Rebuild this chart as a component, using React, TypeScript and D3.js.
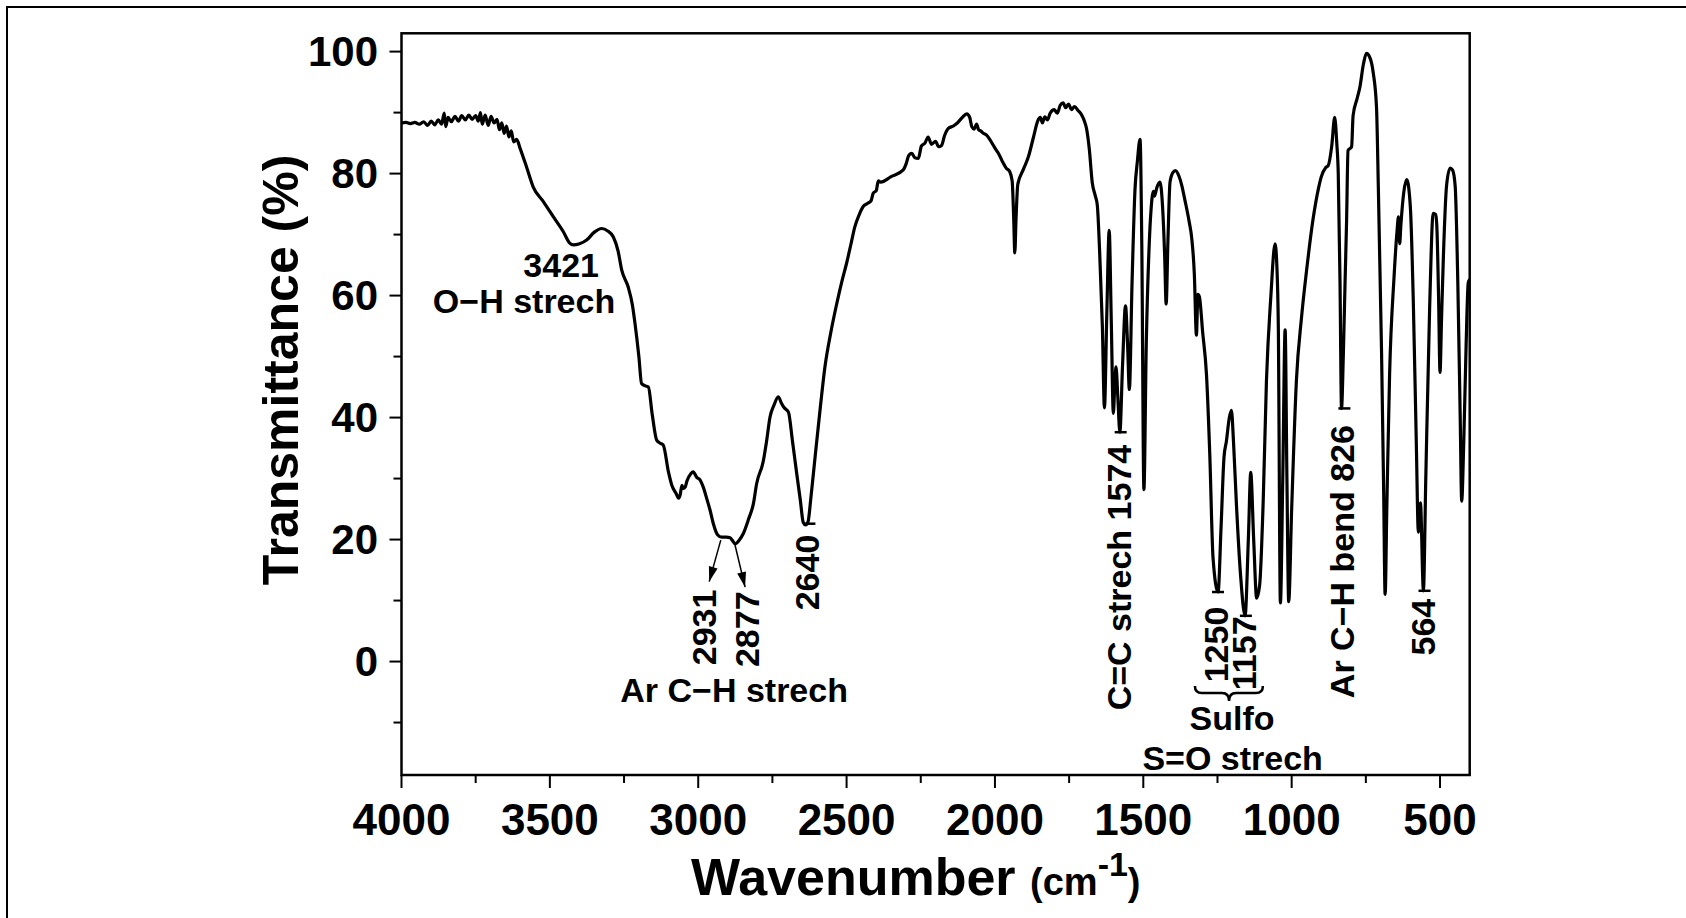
import React from 'react';
import * as d3 from 'd3';

// ---- spectrum (wavenumber cm-1, transmittance %) ----
const WAVENUMBER = [
  4000, 3985, 3970, 3955, 3940, 3925, 3912, 3900, 3888, 3876, 3865, 3856, 3851, 3843, 3832, 3820, 3808, 3797, 3785, 3773,
  3762, 3750, 3741, 3734, 3728, 3718, 3708, 3698, 3688, 3678, 3670, 3662, 3654, 3646, 3638, 3630, 3622, 3612, 3600, 3578,
  3556, 3522, 3488, 3455, 3433, 3421, 3400, 3376, 3350, 3325, 3305, 3286, 3270, 3258, 3236, 3222, 3213, 3200, 3191, 3178,
  3168, 3155, 3140, 3128, 3118, 3100, 3089, 3075, 3066, 3061, 3055, 3050, 3044, 3038, 3025, 3017, 3005, 2994, 2983, 2970,
  2960, 2949, 2935, 2921, 2905, 2893, 2884, 2876, 2862, 2848, 2830, 2814, 2803, 2781, 2770, 2758, 2745, 2730, 2720, 2710,
  2696, 2682, 2668, 2656, 2646, 2638, 2630, 2620, 2606, 2590, 2573, 2553, 2533, 2515, 2500, 2485, 2472, 2458, 2444, 2430,
  2418, 2410, 2400, 2393, 2385, 2350, 2309, 2300, 2290, 2280, 2270, 2258, 2248, 2236, 2225, 2214, 2200, 2190, 2180, 2170,
  2157, 2140, 2129, 2110, 2095, 2085, 2078, 2070, 2062, 2055, 2048, 2039, 2028, 2016, 2005, 1995, 1988, 1975, 1962, 1950,
  1942, 1937, 1933, 1929, 1923, 1905, 1887, 1870, 1856, 1847, 1840, 1832, 1823, 1814, 1800, 1790, 1780, 1770, 1762, 1752,
  1742, 1732, 1719, 1710, 1700, 1691, 1682, 1672, 1662, 1655, 1647, 1638, 1631, 1623, 1615, 1608, 1601, 1596, 1592, 1586,
  1579, 1570, 1560, 1553, 1547, 1538, 1528, 1520, 1511, 1505, 1498, 1490, 1480, 1474, 1466, 1462, 1455, 1444, 1435, 1428,
  1423, 1417, 1410, 1400, 1392, 1380, 1370, 1360, 1345, 1337, 1328, 1321, 1316, 1311, 1300, 1287, 1276, 1265, 1248, 1238,
  1228, 1220, 1210, 1203, 1196, 1186, 1172, 1157, 1146, 1138, 1128, 1118, 1108, 1096, 1085, 1070, 1056, 1050, 1045, 1038,
  1030, 1022, 1016, 1010, 1000, 984, 967, 950, 928, 910, 900, 885, 877, 865, 855, 848, 843, 837, 832, 826,
  820, 815, 810, 798, 793, 780, 770, 758, 748, 738, 725, 714, 708, 697, 690, 685, 679, 670, 655, 645,
  640, 636, 632, 622, 612, 600, 590, 580, 573, 566, 556, 548, 535, 523, 515, 511, 505, 500, 495, 489,
  478, 466, 458, 449, 440, 432, 427, 420, 412, 405, 400,
];
const TRANSMITTANCE = [
  88.3, 88.4, 88.2, 88.4, 88.1, 88.5, 87.9, 88.6, 88.0, 88.8, 88.1, 89.9, 87.7, 89.2, 88.5, 89.4, 88.6, 89.5, 88.8, 89.6,
  88.9, 89.5, 88.6, 90.0, 88.1, 89.6, 87.9, 89.4, 88.3, 88.9, 87.2, 88.3, 86.6, 87.8, 86.0, 87.0, 85.2, 85.6, 84.1, 81.0,
  77.8, 75.4, 72.9, 70.5, 68.6, 68.3, 68.5, 69.1, 70.4, 71.0, 70.6, 69.6, 67.3, 64.2, 61.4, 58.5, 55.4, 50.0, 45.6, 45.2,
  45.0, 40.5, 36.3, 35.8, 35.5, 31.0, 28.9, 27.6, 26.8, 27.3, 28.9, 28.4, 28.6, 29.6, 30.8, 31.1, 30.2, 29.8, 28.6, 26.5,
  24.8, 22.6, 20.8, 20.4, 20.4, 20.3, 19.8, 19.3, 19.9, 21.0, 23.4, 25.9, 29.2, 32.8, 36.0, 40.1, 42.0, 43.4, 42.4, 41.6,
  40.9, 36.0, 30.8, 26.5, 22.8, 22.4, 22.9, 27.0, 33.6, 41.0, 48.3, 54.0, 58.7, 62.5, 65.3, 68.5, 71.3, 73.2, 74.6, 75.1,
  75.5, 76.8, 77.2, 78.8, 78.6, 79.5, 80.6, 81.5, 83.0, 83.3, 82.6, 82.5, 84.5, 85.0, 86.0, 84.8, 85.3, 84.4, 84.6, 86.2,
  87.4, 87.8, 88.2, 89.2, 89.8, 89.2, 87.7, 87.3, 88.1, 87.2, 87.0, 86.6, 86.3, 85.5, 84.6, 83.8, 83.3, 82.0, 80.9, 80.3,
  78.8, 73.0, 67.0, 72.5, 78.2, 80.6, 82.8, 86.0, 88.6, 89.2, 88.3, 89.3, 88.8, 89.9, 90.5, 89.9, 91.2, 91.6, 90.8, 91.4,
  90.5, 91.0, 90.3, 89.8, 88.8, 87.3, 84.0, 78.5, 76.4, 74.8, 67.0, 55.0, 41.6, 57.0, 70.7, 56.0, 40.7, 45.5, 48.3, 43.5,
  37.6, 48.5, 58.3, 52.0, 44.6, 62.0, 77.4, 82.0, 85.6, 68.0, 28.2, 52.0, 68.5, 74.0, 77.1, 76.3, 77.6, 78.6, 74.5, 66.5,
  58.6, 69.0, 78.6, 80.2, 80.5, 79.6, 78.0, 75.7, 72.0, 69.5, 63.5, 53.5, 60.2, 59.8, 54.0, 47.0, 34.0, 17.0, 11.4, 22.0,
  33.5, 36.1, 40.0, 41.2, 36.0, 25.6, 14.0, 7.5, 20.0, 31.0, 20.0, 10.4, 12.5, 26.2, 46.0, 60.0, 68.5, 65.0, 55.0, 9.6,
  30.0, 54.4, 30.0, 9.8, 25.0, 46.1, 56.3, 64.0, 72.5, 77.5, 79.5, 81.0, 81.3, 84.5, 89.2, 85.0, 80.0, 62.0, 41.5, 50.0,
  62.3, 72.0, 83.8, 84.4, 89.5, 92.2, 94.2, 98.0, 99.7, 99.2, 96.5, 90.8, 78.0, 50.5, 28.0, 11.0, 26.0, 47.0, 63.0, 70.5,
  72.9, 68.5, 71.5, 77.0, 79.0, 74.5, 58.9, 36.0, 21.2, 26.0, 11.6, 30.0, 58.0, 73.5, 73.3, 71.6, 60.0, 47.4, 56.0, 65.9,
  78.0, 80.9, 80.6, 78.0, 62.0, 40.0, 26.3, 36.0, 52.0, 62.1, 62.6,
];

// ---- axes ----
const X_DOMAIN = [4000, 400];
const Y_DOMAIN = [-18.6, 103];
const X_TICKS = [4000, 3500, 3000, 2500, 2000, 1500, 1000, 500];
const X_MINOR = [3750, 3250, 2750, 2250, 1750, 1250, 750];
const Y_TICKS = [100, 80, 60, 40, 20, 0];
const Y_MINOR = [90, 70, 50, 30, 10, -10];

// ---- annotations (data units) ----
const HORIZONTAL_LABELS = [
  { text: '3421', wn: 3462, v: 63.0 },
  { text: 'O\u2212H strech', wn: 3587, v: 57.1 },
  { text: 'Ar C\u2212H strech', wn: 2879, v: -6.7 },
  { text: 'Sulfo', wn: 1201, v: -11.2 },
  { text: 'S=O strech', wn: 1199, v: -17.8 },
];
const ROTATED_LABELS = [
  { text: '2931', wn: 2980, v: -0.6, mark: null },
  { text: '2877', wn: 2834, v: -0.9, mark: null },
  { text: '2640', wn: 2632, v: 8.4, mark: 22.6 },
  { text: 'C=C strech 1574', wn: 1583, v: -8.0, mark: 37.6 },
  { text: '1250', wn: 1255, v: -3.4, mark: 11.4 },
  { text: '1157', wn: 1161, v: -4.7, mark: 7.5 },
  { text: 'Ar C\u2212H bend 826', wn: 829, v: -6.0, mark: 41.5 },
  { text: '564', wn: 559, v: 1.0, mark: 11.6 },
];
const ARROWS = [
  { from: [2924, 19.9], to: [2963, 13.1] },
  { from: [2876, 19.1], to: [2842, 12.2] },
];
const BRACE = { left: 1326, right: 1097, mid: 1211 };

const FONT = '"Liberation Sans", Arial, Helvetica, sans-serif';

export default function App() {
  const W = 1686;
  const H = 918;
  const left = 401.5, right = 1469.7, top = 33.3, bottom = 775;
  const x = d3.scaleLinear().domain(X_DOMAIN).range([left, right]);
  const y = d3.scaleLinear().domain(Y_DOMAIN).range([bottom, top]);

  const pts: [number, number][] = WAVENUMBER.map((w, i) => [w, TRANSMITTANCE[i]]);
  const line = d3
    .line<[number, number]>()
    .x((d) => x(d[0]))
    .y((d) => y(d[1]))
    .curve(d3.curveMonotoneX);
  const path = line(pts) || '';

  const arrowHead = (x1: number, y1: number, x2: number, y2: number) => {
    const ang = Math.atan2(y2 - y1, x2 - x1);
    const L = 15, Wd = 4.5;
    const bx = x2 - L * Math.cos(ang), by = y2 - L * Math.sin(ang);
    const px = -Math.sin(ang) * Wd, py = Math.cos(ang) * Wd;
    return `${x2},${y2} ${bx + px},${by + py} ${bx - px},${by - py}`;
  };

  const bx1 = x(BRACE.left), bx2 = x(BRACE.right), bxm = x(BRACE.mid);
  const byTop = 686, byMid = 693, byTip = 701;
  const bracePath = `M${bx1},${byTop} Q${bx1},${byMid} ${bx1 + 7},${byMid} L${bxm - 7},${byMid} Q${bxm},${byMid} ${bxm},${byTip} Q${bxm},${byMid} ${bxm + 7},${byMid} L${bx2 - 7},${byMid} Q${bx2},${byMid} ${bx2},${byTop}`;

  return (
    <svg
      width={W}
      height={H}
      viewBox={`0 0 ${W} ${H}`}
      style={{ position: 'absolute', left: 0, top: 0, background: '#fff' }}
      fontFamily={FONT}
    >
      <rect x={0} y={0} width={W} height={H} fill="#fff" />
      <rect x={7} y={7} width={1720} height={1000} fill="none" stroke="#000" strokeWidth={2} />
      <defs>
        <clipPath id="plotclip">
          <rect x={left} y={top} width={right - left} height={bottom - top} />
        </clipPath>
      </defs>

      {/* curve */}
      <path
        d={path}
        fill="none"
        stroke="#000"
        strokeWidth={3.2}
        strokeLinejoin="round"
        strokeLinecap="round"
        clipPath="url(#plotclip)"
      />

      {/* frame */}
      <rect x={left} y={top} width={right - left} height={bottom - top} fill="none" stroke="#000" strokeWidth={2.5} />

      {/* x ticks */}
      {X_TICKS.map((t) => (
        <g key={'xt' + t}>
          <line x1={x(t)} x2={x(t)} y1={bottom} y2={bottom + 13} stroke="#000" strokeWidth={2} />
          <text x={x(t)} y={835} textAnchor="middle" fontSize={44} fontWeight="bold">
            {t}
          </text>
        </g>
      ))}
      {X_MINOR.map((t) => (
        <line key={'xm' + t} x1={x(t)} x2={x(t)} y1={bottom} y2={bottom + 8} stroke="#000" strokeWidth={2} />
      ))}

      {/* y ticks */}
      {Y_TICKS.map((t) => (
        <g key={'yt' + t}>
          <line x1={left - 12} x2={left} y1={y(t)} y2={y(t)} stroke="#000" strokeWidth={2} />
          <text x={378} y={y(t)} textAnchor="end" dominantBaseline="central" fontSize={42} fontWeight="bold">
            {t}
          </text>
        </g>
      ))}
      {Y_MINOR.map((t) => (
        <line key={'ym' + t} x1={left - 8} x2={left} y1={y(t)} y2={y(t)} stroke="#000" strokeWidth={2} />
      ))}

      {/* axis titles */}
      <text transform="translate(298,370) rotate(-90)" textAnchor="middle" fontSize={50} fontWeight="bold">
        Transmittance (%)
      </text>
      <text x={691} y={895} fontWeight="bold">
        <tspan fontSize={52}>Wavenumber </tspan>
        <tspan fontSize={38}>(cm</tspan>
        <tspan fontSize={34} dy={-19}>-1</tspan>
        <tspan fontSize={38} dy={19}>)</tspan>
      </text>

      {/* horizontal annotations */}
      {HORIZONTAL_LABELS.map((l) => (
        <text key={l.text} x={x(l.wn)} y={y(l.v)} textAnchor="middle" fontSize={34} fontWeight="bold">
          {l.text}
        </text>
      ))}

      {/* rotated annotations */}
      {ROTATED_LABELS.map((l) => (
        <g key={l.text}>
          <text
            transform={`translate(${x(l.wn)},${y(l.v)}) rotate(-90)`}
            textAnchor="start"
            dominantBaseline="central"
            fontSize={34}
            fontWeight="bold"
          >
            {l.text}
          </text>
          {l.mark !== null && (
            <line
              x1={x(l.wn) - 4}
              x2={x(l.wn) + 8}
              y1={y(l.mark as number)}
              y2={y(l.mark as number)}
              stroke="#000"
              strokeWidth={2.5}
            />
          )}
        </g>
      ))}

      {/* arrows */}
      {ARROWS.map((a, i) => {
        const x1 = x(a.from[0]), y1 = y(a.from[1]), x2 = x(a.to[0]), y2 = y(a.to[1]);
        return (
          <g key={'ar' + i}>
            <line x1={x1} y1={y1} x2={x2} y2={y2} stroke="#000" strokeWidth={1.5} />
            <polygon points={arrowHead(x1, y1, x2, y2)} fill="#000" />
          </g>
        );
      })}

      {/* brace */}
      <path d={bracePath} fill="none" stroke="#000" strokeWidth={2.5} />
    </svg>
  );
}
